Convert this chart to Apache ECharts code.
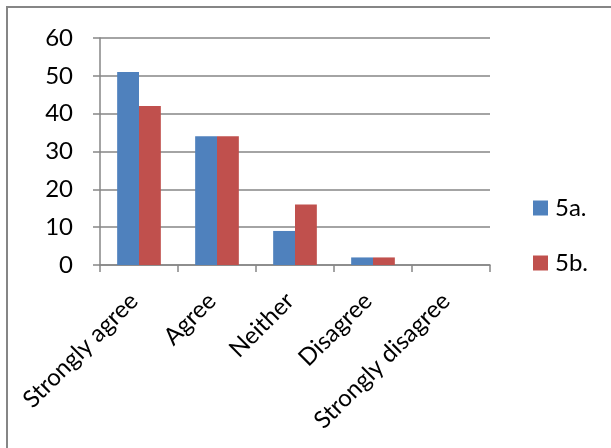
<!DOCTYPE html>
<html><head><meta charset="utf-8">
<script src="https://cdn.jsdelivr.net/npm/echarts@6/dist/echarts.min.js"></script>
<style>html,body{margin:0;padding:0;background:#fff}#c{width:611px;height:448px}</style>
</head><body><div id="c"></div>
<script>
const categories = ['Strongly agree', 'Agree', 'Neither', 'Disagree', 'Strongly disagree'];
const series5a = [51, 34, 9, 2, 0];
const series5b = [42, 34, 16, 2, 0];
const seriesNames = ['5a.', '5b.'];
const yTicks = {min: 0, max: 60, interval: 10};

const font = 'Lato';
const gray = '#868686';
const chart = echarts.init(document.getElementById('c'), null, {renderer: 'canvas'});
chart.setOption({
  animation: false,
  color: ['#4F81BD', '#C0504D'],
  graphic: [{type: 'rect', shape: {x: 7, y: 7, width: 800, height: 600, r: 0}, style: {fill: 'none', stroke: gray, lineWidth: 2}, z: -1}],
  grid: {left: 100, right: 121, top: 38, bottom: 183, containLabel: false},
  legend: {
    orient: 'vertical', left: 533, top: 196, padding: 0, itemWidth: 15, itemHeight: 15, itemGap: 31,
    icon: 'rect', data: seriesNames,
    textStyle: {fontFamily: font, fontSize: 24, color: '#000', padding: [0, 0, 0, 2]}
  },
  xAxis: {
    type: 'category', data: categories,
    axisLine: {lineStyle: {color: gray, width: 1.5}},
    axisTick: {show: true, length: 7, alignWithLabel: false, lineStyle: {color: gray, width: 1.5}},
    axisLabel: {rotate: 45, interval: 0, margin: 27, padding: [0, 7, 0, 0], fontFamily: font, fontSize: 24, color: '#000'}
  },
  yAxis: {
    type: 'value', min: yTicks.min, max: yTicks.max, interval: yTicks.interval,
    axisLine: {show: true, lineStyle: {color: gray, width: 1.5}},
    axisTick: {show: true, length: 7, lineStyle: {color: gray, width: 1.5}},
    splitLine: {lineStyle: {color: gray, width: 1.5}},
    axisLabel: {margin: 27, fontFamily: font, fontSize: 24, color: '#000'}
  },
  series: [
    {name: seriesNames[0], type: 'bar', data: series5a, barGap: '0%', barCategoryGap: '44%'},
    {name: seriesNames[1], type: 'bar', data: series5b, barGap: '0%', barCategoryGap: '44%'}
  ]
});
</script></body></html>
